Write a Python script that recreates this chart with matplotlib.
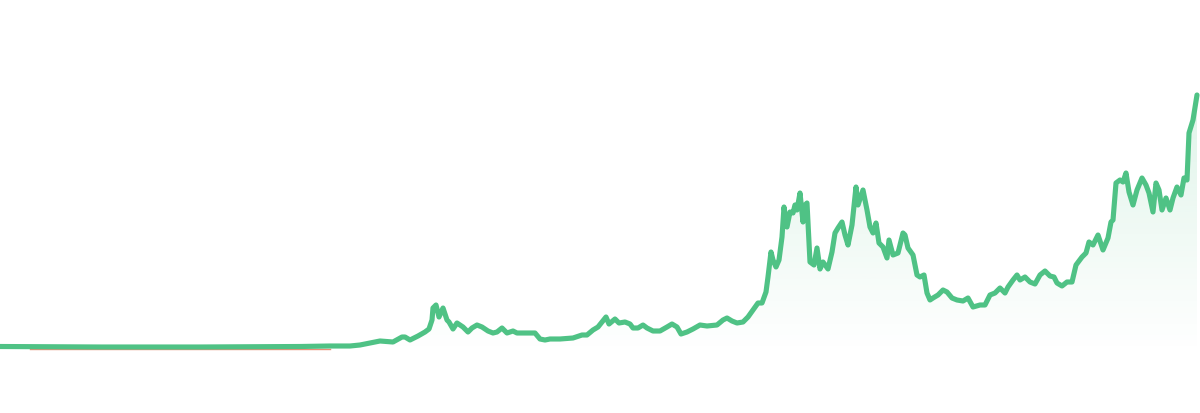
import numpy as np
import matplotlib.pyplot as plt
from matplotlib.colors import to_rgb

# price curve (x position, height above bottom edge)
xs = [0, 100, 200, 300, 330, 350, 360, 370, 380, 393, 402, 405, 410, 418, 425, 429,
      432, 433, 436, 439, 443, 447, 449, 453, 457, 460, 463, 468, 472, 477, 482,
      488, 493, 497, 502, 507, 513, 517, 523, 530, 535, 540, 545, 550, 560, 573,
      582, 587, 593, 598, 602, 606, 609, 615, 619, 625, 630, 633, 638, 643, 647,
      653, 660, 667, 672, 677, 681, 687, 693, 700, 707, 717, 723, 727, 732, 737,
      743, 748, 753, 758, 762, 766, 768, 771, 773, 776, 779, 782, 784, 787, 790,
      793, 795, 797, 800, 803, 805, 807, 810, 814, 817, 820, 823, 828, 832, 835,
      838, 842, 845, 848, 852, 856, 858, 863, 867, 870, 873, 876, 879, 883, 887,
      889, 893, 898, 903, 905, 908, 913, 917, 920, 924, 927, 930, 933, 938, 943,
      947, 952, 957, 963, 968, 973, 980, 985, 990, 995, 1000, 1005, 1008, 1013,
      1017, 1020, 1025, 1030, 1035, 1040, 1045, 1050, 1054, 1057, 1062, 1067,
      1072, 1076, 1082, 1086, 1089, 1093, 1098, 1103, 1108, 1111, 1113, 1116,
      1120, 1123, 1126, 1129, 1133, 1137, 1142, 1146, 1149, 1153, 1156, 1159,
      1162, 1166, 1170, 1173, 1177, 1181, 1184, 1187, 1189, 1193, 1197]
ys_px = [346.5, 347, 347, 346.5, 346, 346, 345, 343, 341, 342, 337, 337, 340, 336, 332, 329,
         320, 308, 305, 317, 308, 320, 322, 329, 323, 325, 327, 332, 328, 325, 327,
         331, 333, 332, 328, 333, 331, 333, 333, 333, 333, 339, 340, 339, 339, 338,
         335, 335, 330, 327, 322, 317, 324, 319, 323, 322, 324, 328, 328, 325, 328,
         331, 331, 327, 324, 327, 334, 332, 329, 325, 326, 325, 320, 318, 321, 323,
         322, 317, 310, 303, 303, 292, 277, 252, 260, 267, 260, 237, 207, 227, 212,
         213, 205, 210, 193, 222, 205, 203, 262, 265, 248, 269, 262, 269, 252, 233,
         228, 222, 235, 245, 225, 187, 205, 190, 210, 227, 233, 223, 243, 247, 258,
         240, 255, 253, 233, 235, 248, 255, 275, 277, 275, 293, 300, 298, 295, 290,
         292, 298, 300, 301, 298, 307, 305, 305, 295, 293, 288, 293, 287, 280,
         275, 280, 277, 282, 284, 275, 271, 276, 277, 283, 286, 282,
         282, 265, 257, 253, 242, 245, 235, 250, 238, 222, 220, 183,
         180, 182, 173, 192, 205, 190, 178, 185, 193, 212, 183, 190,
         210, 198, 210, 198, 187, 195, 178, 180, 133, 120, 95]

H = 413
x = np.array(xs, dtype=float)
y = H - np.array(ys_px, dtype=float)
base = y[0] - 2.8   # start level, red where price sat under it
red_span = [30, 330]

green = '#4fc285'
red = '#e0603f'

fig = plt.figure(figsize=(12, 4.13), dpi=100)
ax = fig.add_axes([0, 0, 1, 1])
ax.set_xlim(0, 1200)
ax.set_ylim(0, H)
ax.axis('off')

# gradient under the curve
top, bottom = y.max(), H - 352
n = 256
alpha = np.linspace(0.0, 0.18, n)[:, None]
rgba = np.zeros((n, 1, 4))
rgba[..., :3] = to_rgb(green)
rgba[..., 3] = alpha
img = ax.imshow(rgba, extent=[0, 1200, bottom, top], origin='lower',
                aspect='auto', zorder=1)
poly = ax.fill_between(x, y, bottom, color='none', lw=0)
clip = poly.get_paths()[0]
img.set_clip_path(clip, transform=ax.transData)

ax.plot(red_span, [base, base], color=red, lw=1.0, alpha=0.7, zorder=2)
ax.plot(x, y, color=green, lw=3.7, solid_joinstyle='round',
        solid_capstyle='round', zorder=3)

fig.savefig('out.png', dpi=100)
